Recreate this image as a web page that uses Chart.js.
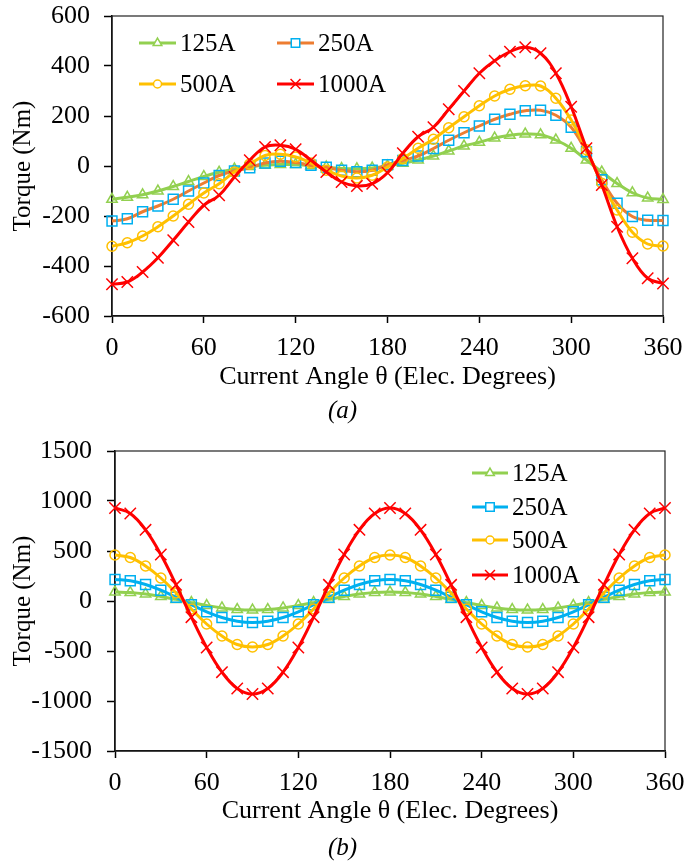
<!DOCTYPE html>
<html><head><meta charset="utf-8">
<script src="https://cdn.jsdelivr.net/npm/chart.js@4.4.0/dist/chart.umd.min.js"></script>
<style>
html,body{margin:0;padding:0;background:#fff;}
body{width:685px;height:863px;position:relative;overflow:hidden;font-family:"Liberation Serif","Times New Roman",serif;}
.wrap{position:absolute;left:0;width:685px;height:400px;}
#wa{top:0;} #wb{top:430px;}
.cap{position:absolute;left:0;width:685px;text-align:center;font-style:italic;font-size:25px;line-height:30px;color:#000;}
</style></head><body>
<div class="wrap" id="wa"><canvas id="ca" width="685" height="400"></canvas></div>
<div class="cap" style="top:395px;">(a)</div>
<div class="wrap" id="wb"><canvas id="cb" width="685" height="400"></canvas></div>
<div class="cap" style="top:832px;">(b)</div>
<script>
// ---------- data ----------
const angles = [0,10,20,30,40,50,60,70,80,90,100,110,120,130,140,150,160,170,180,190,200,210,220,230,240,250,260,270,280,290,300,310,320,330,340,350,360];
const seriesNames = ['125A','250A','500A','1000A'];
// (a)
const a125  = [-133,-125,-115,-100,-82,-62,-42,-25,-12,-2,3,6,6,1,-4,-10,-11,-8,0,11,24,40,60,80,95,112,123,128,125,104,71,24,-24,-70,-107,-128,-134];
const a250  = [-220,-211,-183,-160,-133,-100,-68,-38,-20,-7,12,19,14,3,-5,-17,-23,-17,5,22,40,70,103,133,160,187,207,221,223,203,155,57,-55,-149,-202,-217,-218];
const a500  = [-321,-307,-280,-243,-200,-153,-108,-71,-24,8,42,47,36,12,-17,-40,-48,-37,-4,30,71,107,153,197,241,280,307,321,320,271,184,65,-69,-176,-265,-312,-320];
const a1000 = [-473,-464,-424,-367,-297,-224,-157,-117,-44,23,76,83,67,23,-24,-64,-80,-71,-27,51,117,155,227,300,371,421,457,475,451,371,237,71,-76,-243,-369,-449,-470];
// (b)
const b125  = [90,85,69,45,16,-16,-45,-69,-85,-90,-85,-69,-45,-16,16,45,69,85,90,85,69,45,16,-16,-45,-69,-85,-90,-85,-69,-45,-16,16,45,69,85,90];
const b250  = [215,202,165,108,37,-37,-108,-165,-202,-215,-202,-165,-108,-37,37,108,165,202,215,202,165,108,37,-37,-108,-165,-202,-215,-202,-165,-108,-37,37,108,165,202,215];
const b500  = [460,435,350,230,80,-80,-230,-350,-435,-460,-435,-350,-230,-80,80,230,350,435,460,435,350,230,80,-80,-230,-350,-435,-460,-435,-350,-230,-80,80,230,350,435,460];
const b1000 = [930,875,712,465,162,-162,-465,-712,-875,-930,-875,-712,-465,-162,162,465,712,875,930,875,712,465,162,-162,-465,-712,-875,-930,-875,-712,-465,-162,162,465,712,875,930];
const yTicksA = [-600,600,200];
const yTicksB = [-1500,1500,500];

// ---------- styling ----------
const FONT = 'Liberation Serif';
Chart.defaults.font.family = FONT;
Chart.defaults.color = '#000';
const GREEN='#92D050', BLUE='#00B0F0', ORANGE='#ED7D31', GOLD='#FFC000', RED='#FF0000';

function pts(vals){ return angles.map((a,i)=>({x:a,y:vals[i]})); }
function ds(label, vals, line, mark, style, radius, order){
  return {label, data:pts(vals), borderColor:line, backgroundColor:line, borderWidth:3,
    pointStyle:style, pointRadius:radius, pointHoverRadius:radius, pointBorderColor:mark,
    pointBackgroundColor:'rgba(255,255,255,0)', pointBorderWidth:1.5, tension:0.4, clip:false, order};
}

const frame = {
  id:'frame',
  beforeDatasetsDraw(chart){
    const {ctx, chartArea:c} = chart;
    ctx.save(); ctx.strokeStyle='#222'; ctx.lineWidth=1.2;
    ctx.strokeRect(c.left, c.top, c.right-c.left, c.bottom-c.top);
    ctx.restore();
  }
};
const lineLegend = {
  id:'lineLegend',
  afterDraw(chart, args, opts){
    const ctx = chart.ctx;
    chart.data.datasets.forEach((d,i)=>{
      const p = opts.items[i]; if(!p) return;
      ctx.save();
      ctx.strokeStyle = d.borderColor; ctx.lineWidth = d.borderWidth;
      ctx.beginPath(); ctx.moveTo(p.x,p.y); ctx.lineTo(p.x+opts.len,p.y); ctx.stroke();
      ctx.strokeStyle = d.pointBorderColor; ctx.fillStyle = 'rgba(255,255,255,1)'; ctx.lineWidth = d.pointBorderWidth;
      Chart.helpers.drawPoint(ctx,{pointStyle:d.pointStyle, radius:d.pointRadius-1, borderWidth:d.pointBorderWidth, rotation:0}, p.x+opts.len/2, p.y);
      ctx.fillStyle='#000'; ctx.font = '25px "'+FONT+'"'; ctx.textBaseline='middle'; ctx.textAlign='left';
      ctx.fillText(d.label, p.x+opts.len+4, p.y+1);
      ctx.restore();
    });
  }
};

function makeScales(yr, leftW, xH, xTickPad, xTitlePad, yTickPad){
  const f = {family:FONT, size:26};
  return {
    x:{type:'linear', min:0, max:360,
      ticks:{stepSize:60, color:'#000', font:f, padding:xTickPad, maxRotation:0, autoSkip:false},
      grid:{drawOnChartArea:false, drawTicks:true, tickLength:7, tickColor:'#000', tickWidth:1.5},
      border:{color:'#000', width:1.5},
      title:{display:true, text:'Current Angle θ (Elec. Degrees)', color:'#000', font:{family:FONT,size:26}, padding:{top:0,bottom:xTitlePad}},
      afterFit(s){ s.height = xH; s.paddingLeft = 0; s.paddingRight = 0; }
    },
    y:{type:'linear', min:yr[0], max:yr[1],
      ticks:{stepSize:yr[2], color:'#000', font:f, padding:yTickPad, callback:v=>String(v)},
      grid:{drawOnChartArea:false, drawTicks:true, tickLength:8, tickColor:'#000', tickWidth:1.5},
      border:{color:'#000', width:1.5},
      title:{display:true, text:'Torque (Nm)', color:'#000', font:{family:FONT,size:25}, padding:{top:8,bottom:0}},
      afterFit(s){ s.width = leftW; s.paddingTop = 0; s.paddingBottom = 0; }
    }
  };
}

new Chart(document.getElementById('ca'), {
  type:'line',
  data:{datasets:[
    ds(seriesNames[0], a125, GREEN, GREEN, 'triangle', 6, 3),
    ds(seriesNames[1], a250, ORANGE, BLUE, 'rect', 7, 2),
    ds(seriesNames[2], a500, GOLD, GOLD, 'circle', 5, 1),
    ds(seriesNames[3], a1000, RED, RED, 'crossRot', 8, 0)
  ]},
  options:{responsive:false, animation:false, devicePixelRatio:1, events:[],
    layout:{padding:{top:16, right:22, left:0, bottom:0}},
    scales:makeScales(yTicksA, 112, 84, 10, 7, 14),
    plugins:{legend:{display:false}, tooltip:{enabled:false},
      lineLegend:{len:37, items:[{x:139,y:43},{x:277,y:43},{x:139,y:84},{x:277,y:84}]}}
  },
  plugins:[frame, lineLegend]
});

new Chart(document.getElementById('cb'), {
  type:'line',
  data:{datasets:[
    ds(seriesNames[0], b125, GREEN, GREEN, 'triangle', 6, 3),
    ds(seriesNames[1], b250, BLUE, BLUE, 'rect', 7, 2),
    ds(seriesNames[2], b500, GOLD, GOLD, 'circle', 5, 1),
    ds(seriesNames[3], b1000, RED, RED, 'crossRot', 8, 0)
  ]},
  options:{responsive:false, animation:false, devicePixelRatio:1, events:[],
    layout:{padding:{top:21, right:20, left:0, bottom:0}},
    scales:makeScales(yTicksB, 115, 79, 10, 3, 15),
    plugins:{legend:{display:false}, tooltip:{enabled:false},
      lineLegend:{len:36, items:[{x:472,y:43},{x:472,y:77},{x:472,y:110},{x:472,y:145}]}}
  },
  plugins:[frame, lineLegend]
});
</script>
</body></html>
